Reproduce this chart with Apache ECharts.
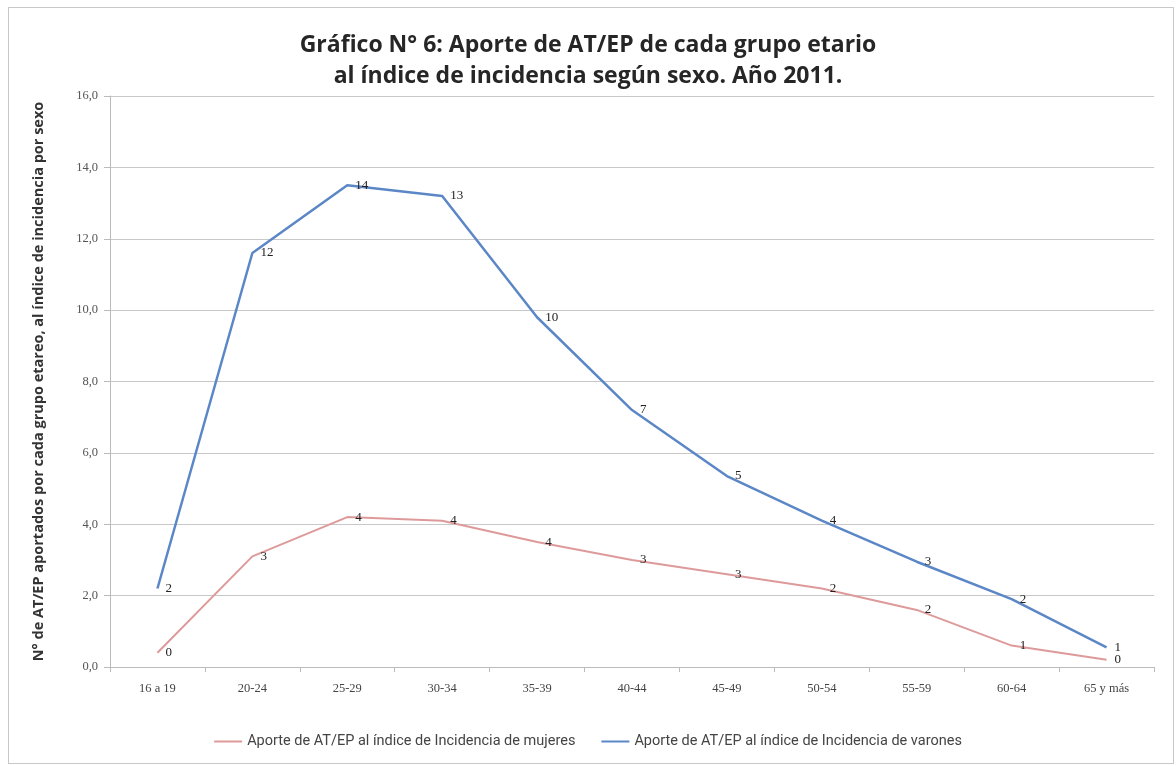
<!DOCTYPE html>
<html><head><meta charset="utf-8">
<script src="https://cdn.jsdelivr.net/npm/echarts@6/dist/echarts.min.js"></script>
<style>
html,body{margin:0;padding:0;background:#fff;}
#frame{position:absolute;left:8px;top:7px;width:1166px;height:757px;border:1px solid #c8c8c8;box-sizing:border-box;}
#c{position:absolute;left:0;top:0;width:1176px;height:766px;}
</style></head>
<body>
<div id="frame"></div>
<div id="c"></div>
<script>
const categories = ['16 a 19','20-24','25-29','30-34','35-39','40-44','45-49','50-54','55-59','60-64','65 y más'];
const mujeres = [0.4, 3.1, 4.2, 4.1, 3.5, 3.0, 2.6, 2.2, 1.6, 0.6, 0.2];
const varones = [2.2, 11.6, 13.5, 13.2, 9.8, 7.2, 5.35, 4.1, 2.95, 1.9, 0.55];
const nameMujeres = 'Aporte de AT/EP al índice de Incidencia de mujeres';
const nameVarones = 'Aporte de AT/EP al índice de Incidencia de varones';
const titleText = 'Gráfico N° 6: Aporte de AT/EP de cada grupo etario\nal índice de incidencia según sexo. Año 2011.';
const yName = 'N° de AT/EP aportados por cada grupo etareo, al índice de incidencia por sexo';

const chart = echarts.init(document.getElementById('c'));
const lbl = {
  show: true, position: 'right', distance: 8,
  color: '#222', fontFamily: 'Liberation Serif', fontSize: 13,
  formatter: p => Math.round(p.value)
};
chart.setOption({
  animation: false,
  title: {
    text: titleText, left: 'center', top: 25,
    textStyle: {fontFamily: 'Open Sans', fontWeight: 'bold', fontSize: 23, color: '#262626', lineHeight: 31}
  },
  legend: {
    bottom: 12, left: 'center', itemGap: 26, itemWidth: 28, itemHeight: 2,
    icon: 'rect',
    textStyle: {fontFamily: 'Roboto', fontSize: 14.5, color: '#444'},
    data: [nameMujeres, nameVarones]
  },
  grid: {left: 110, right: 22, top: 96, bottom: 99},
  xAxis: {
    type: 'category', data: categories, boundaryGap: true,
    axisLine: {lineStyle: {color: '#bbb', width: 1}},
    axisTick: {show: true, length: 5, lineStyle: {color: '#bbb'}},
    axisLabel: {fontFamily: 'Liberation Serif', fontSize: 12.5, color: '#444', margin: 15}
  },
  yAxis: {
    type: 'value', min: 0, max: 16, interval: 2,
    name: yName, nameLocation: 'middle', nameGap: 64, nameRotate: 90,
    nameTextStyle: {fontFamily: 'Open Sans', fontWeight: 'bold', fontSize: 14.5, color: '#333'},
    axisLine: {show: true, lineStyle: {color: '#bbb'}},
    axisTick: {show: true, length: 6, lineStyle: {color: '#bbb'}},
    axisLabel: {fontFamily: 'Liberation Serif', fontSize: 12.5, color: '#555', margin: 12,
      formatter: v => v.toFixed(1).replace('.', ',')},
    splitLine: {lineStyle: {color: '#c8c8c8', width: 1}}
  },
  series: [
    {name: nameMujeres, type: 'line', data: mujeres, showSymbol: true, symbol: 'circle', symbolSize: 0.1,
     lineStyle: {color: '#de9a9a', width: 2}, itemStyle: {color: '#de9a9a'}, label: lbl},
    {name: nameVarones, type: 'line', data: varones, showSymbol: true, symbol: 'circle', symbolSize: 0.1,
     lineStyle: {color: '#5b87c7', width: 2.5}, itemStyle: {color: '#5b87c7'}, label: lbl}
  ]
});
</script>
</body></html>
